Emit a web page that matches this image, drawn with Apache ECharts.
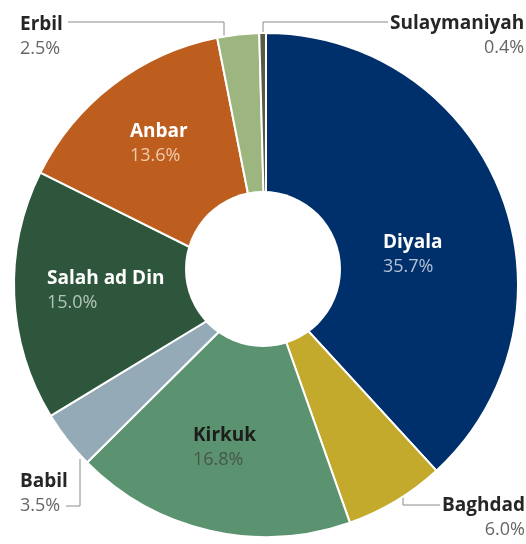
<!DOCTYPE html>
<html>
<head>
<meta charset="utf-8">
<script src="https://cdn.jsdelivr.net/npm/echarts@6/dist/echarts.min.js"></script>
<style>
  html, body { margin: 0; padding: 0; background: #fff; }
  #chart { width: 526px; height: 544px; }
</style>
</head>
<body>
<div id="chart"></div>
<script>
// provinces, clockwise from 12 o'clock
var provinces = ["Diyala", "Baghdad", "Kirkuk", "Babil", "Salah ad Din", "Anbar", "Erbil", "Sulaymaniyah"];
var shares = [35.7, 6.0, 16.8, 3.5, 15.0, 13.6, 2.5, 0.4];
var colors = ["#00306b", "#c3aa2c", "#5b9370", "#94aab6", "#2e563c", "#bd5e1f", "#9db57f", "#5a5a44"];

// label styling per slice
var insideLabels = {
  "Diyala": { name: "#ffffff", pct: "#b4c0d6" },
  "Kirkuk": { name: "#1c1c1c", pct: "#46564b" },
  "Salah ad Din": { name: "#ffffff", pct: "#b3c5b8" },
  "Anbar": { name: "#ffffff", pct: "#f1cbab" }
};

// where each label sits
var labelSpots = {
  "Diyala": { x: 383, y: 255 },
  "Kirkuk": { x: 193, y: 448 },
  "Salah ad Din": { x: 47, y: 291 },
  "Anbar": { x: 130, y: 144 },
  "Erbil": { x: 20, y: 37, line: [[224, 37], [224, 22], [68, 22]] },
  "Sulaymaniyah": { x: 390, y: 36, line: [[263, 34], [263, 22], [388, 22]] },
  "Baghdad": { x: 442, y: 518, line: [[403, 493], [403, 505], [440, 505]] },
  "Babil": { x: 20, y: 494, line: [[80, 459], [80, 506], [66, 506]] }
};

var fontFamily = "'Open Sans', 'Noto Sans', sans-serif";

var pieData = provinces.map(function (name, i) {
  var inside = insideLabels[name];
  var item = {
    name: name,
    value: shares[i],
    itemStyle: { color: colors[i] }
  };
  if (inside) {
    item.label = {
      position: "inside",
      rich: {
        n: { color: inside.name, fontWeight: "bold", fontSize: 19, lineHeight: 24, fontFamily: fontFamily },
        p: { color: inside.pct, fontSize: 18, lineHeight: 24, fontFamily: fontFamily }
      }
    };
    item.labelLine = { show: false };
  } else {
    item.label = {
      position: "outside",
      rich: {
        n: { color: "#262626", fontWeight: "bold", fontSize: 19, lineHeight: 24, fontFamily: fontFamily },
        p: { color: "#666666", fontSize: 18, lineHeight: 24, fontFamily: fontFamily,
             align: (name === "Sulaymaniyah" || name === "Baghdad") ? "right" : "left" }
      }
    };
    item.labelLine = { show: true, lineStyle: { color: "#8a8a8a", width: 1 } };
  }
  return item;
});

var chart = echarts.init(document.getElementById("chart"));
chart.setOption({
  animation: false,
  graphic: [{
    type: "circle",
    z: 100,
    shape: { cx: 263, cy: 269, r: 78 },
    style: { fill: "#ffffff" }
  }],
  series: [{
    type: "pie",
    center: [266, 285],
    radius: [0, 252],
    startAngle: 90,
    clockwise: true,
    avoidLabelOverlap: false,
    itemStyle: { borderColor: "#ffffff", borderWidth: 2 },
    label: {
      show: true,
      formatter: function (p) {
        return "{n|" + p.name + "}\n{p|" + p.value.toFixed(1) + "%}";
      }
    },
    labelLayout: function (params) {
      var spot = labelSpots[provinces[params.dataIndex]];
      var out = { x: spot.x, y: spot.y, align: "left", verticalAlign: "middle" };
      if (spot.line) out.labelLinePoints = spot.line;
      return out;
    },
    data: pieData
  }]
});
</script>
</body>
</html>
